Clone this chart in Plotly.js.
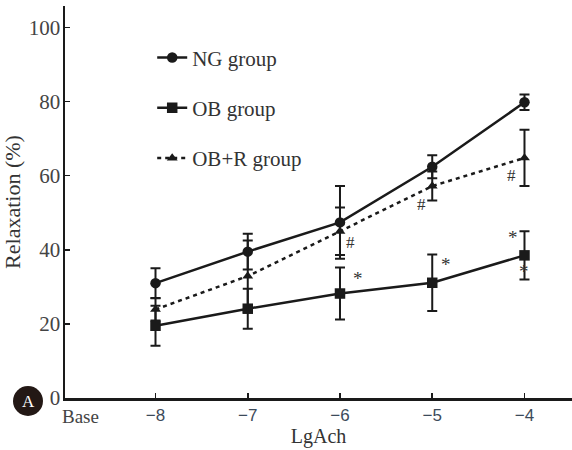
<!DOCTYPE html>
<html>
<head>
<meta charset="utf-8">
<script src="https://cdn.plot.ly/plotly-3.0.1.min.js"></script>
<style>
html,body{margin:0;padding:0;background:#fff;}
#chart{width:572px;height:450px;}
</style>
</head>
<body>
<div id="chart"></div>
<script>
// Data
var lgAch = [-8, -7, -6, -5, -4];
var tickLabels = ["\u22128", "\u22127", "\u22126", "\u22125", "\u22124"];

var ngMean = [31.0, 39.5, 47.4, 62.4, 79.8];
var ngSD   = [4.0, 4.8, 9.8, 3.1, 2.1];

var obMean = [19.5, 24.1, 28.2, 31.1, 38.5];
var obSD   = [5.4, 5.4, 7.0, 7.6, 6.5];

var obrMean = [23.9, 32.9, 45.0, 57.2, 64.8];
var obrSD   = [3.0, 9.6, 6.4, 3.9, 7.6];

// significance markers
var marksX = [-5.89, -5.80, -5.12, -4.85, -4.14, -4.12, -4.00];
var marksY = [41.9, 32.2, 52.2, 36.0, 60.0, 43.2, 34.2];
var marksT = ["#", "*", "#", "*", "#", "*", "*"];

var serif = "Liberation Serif, Times New Roman, serif";
var sans = "Liberation Sans, Arial, sans-serif";
var ink = "#1a1a1a";

function errObj(arr) {
  return {type: "data", array: arr, visible: true, color: ink, thickness: 2, width: 5};
}

var traces = [
  {x: lgAch, y: ngMean, name: "NG group", legendgroup: "a", mode: "lines+markers",
   line: {color: ink, width: 2.5}, marker: {symbol: "circle", size: 10.5, color: ink},
   error_y: errObj(ngSD)},
  {x: lgAch, y: obMean, name: "OB group", legendgroup: "b", mode: "lines+markers",
   line: {color: ink, width: 2.5}, marker: {symbol: "square", size: 10.5, color: ink},
   error_y: errObj(obSD)},
  {x: lgAch, y: obrMean, name: "OB+R group", legendgroup: "c", mode: "lines+markers",
   line: {color: ink, width: 2.5, dash: "4px,4px"}, marker: {symbol: "triangle-up", size: 9.5, color: ink},
   error_y: errObj(obrSD)}
];

var annotations = [];
for (var i = 0; i < marksT.length; i++) {
  annotations.push({x: marksX[i], y: marksY[i], xref: "x", yref: "y", text: marksT[i],
    showarrow: false, xanchor: "center", yanchor: "middle",
    font: {family: serif, size: marksT[i] === "*" ? 19 : 17, color: "#333"}});
}
// "Base" label under the origin
annotations.push({x: (80 - 65) / 507, y: 0, xref: "paper", yref: "paper", text: "Base", showarrow: false,
  xanchor: "center", yanchor: "top", yshift: -6, font: {family: serif, size: 19, color: "#444"}});
// panel letter
annotations.push({x: (28 - 65) / 507, y: (398 - 401) / 392, xref: "paper", yref: "paper", text: "A",
  showarrow: false, xanchor: "center", yanchor: "middle",
  font: {family: serif, size: 17, color: "#fff"}});

var layout = {
  width: 572, height: 450,
  margin: {l: 65, r: 0, t: 6, b: 52},
  paper_bgcolor: "#fff", plot_bgcolor: "#fff",
  showlegend: true,
  legend: {x: 0.172, y: 0.92, xanchor: "left", yanchor: "top", tracegroupgap: 20,
    traceorder: "grouped", itemwidth: 30, bgcolor: "rgba(0,0,0,0)",
    font: {family: serif, size: 21, color: "#333"}},
  xaxis: {
    range: [-8.981, -3.485], tickvals: lgAch, ticktext: tickLabels,
    ticks: "inside", ticklen: 5, tickwidth: 1.5, tickcolor: ink,
    showline: true, linecolor: ink, linewidth: 2.5, showgrid: false, zeroline: false,
    tickfont: {family: sans, size: 17, color: "#3c4a5a"},
    title: {text: "LgAch", standoff: 4, font: {family: serif, size: 20, color: "#333"}}
  },
  yaxis: {
    range: [0, 105.8], tickvals: [0, 20, 40, 60, 80, 100],
    ticks: "inside", ticklen: 5, tickwidth: 1.5, tickcolor: ink,
    showline: true, linecolor: ink, linewidth: 2.5, showgrid: false, zeroline: false,
    ticklabelstandoff: -2,
    tickfont: {family: serif, size: 21, color: "#444"},
    title: {text: "Relaxation (%)", standoff: 6, font: {family: serif, size: 22, color: "#333"}}
  },
  shapes: [
    {type: "circle", xref: "paper", yref: "paper",
     x0: (13 - 65) / 507, x1: (43 - 65) / 507, y0: (398 - 416) / 392, y1: (398 - 386) / 392,
     fillcolor: "#231815", line: {width: 0}}
  ],
  annotations: annotations
};

Plotly.newPlot("chart", traces, layout, {displayModeBar: false, staticPlot: true});
</script>
</body>
</html>
